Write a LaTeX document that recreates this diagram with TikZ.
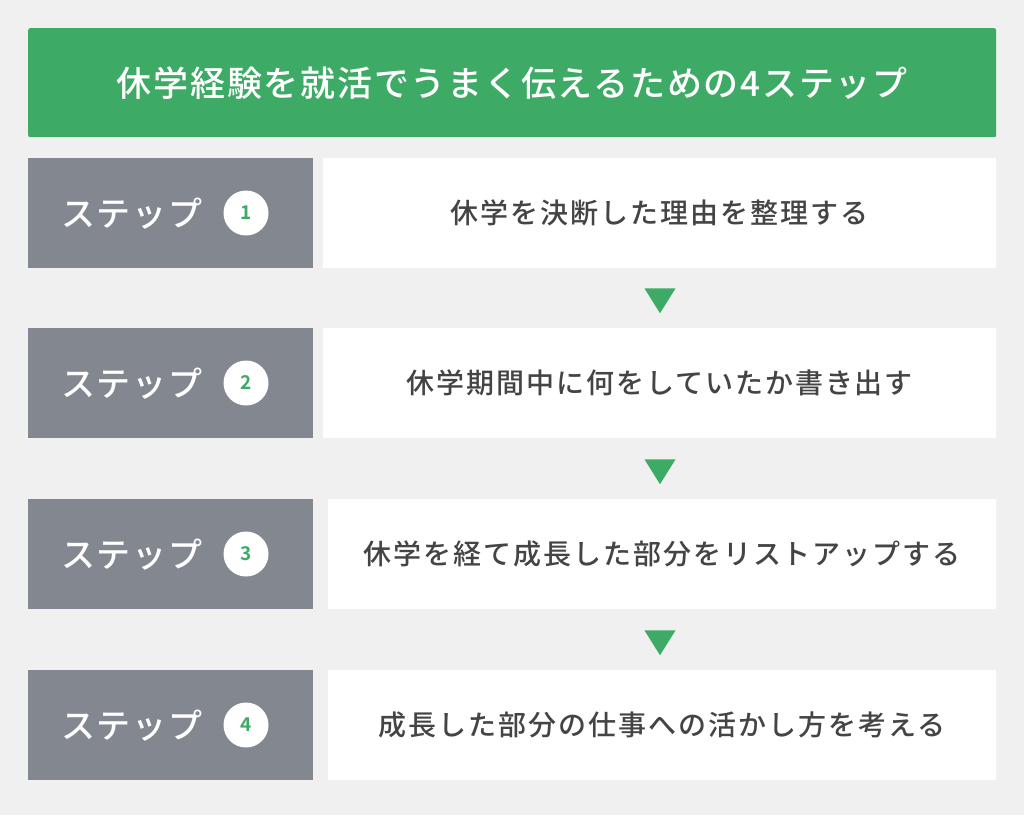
\documentclass[tikz,border=0pt]{standalone}
\usepackage{fontspec}
\setmainfont{Noto Sans CJK JP}[BoldFont={Noto Sans CJK JP Medium}]
\newfontfamily\numfont{Noto Sans CJK JP Bold}
\usetikzlibrary{positioning, shapes.geometric}

\definecolor{bgGray}{HTML}{F0F0F0}
\definecolor{stepGreen}{HTML}{3DAA65}
\definecolor{stepGray}{HTML}{83878F}
\definecolor{textGray}{HTML}{444444}

\tikzset{
	titlebox/.style={fill=stepGreen, rounded corners=2pt, anchor=north west, inner sep=0,
		minimum width=968pt, minimum height=109pt},
	stepbox/.style={fill=stepGray, anchor=north west, inner sep=0,
		minimum width=285pt, minimum height=110pt},
	textbox/.style={fill=white, anchor=north west, inner sep=0, text=textGray,
		font=\fontsize{28}{32}\selectfont\bfseries\addfontfeature{LetterSpace=7}, minimum height=110pt},
	steplabel/.style={anchor=west, inner sep=0, text=white,
		font=\fontsize{34}{38}\selectfont\bfseries\addfontfeature{LetterSpace=5}},
	numcircle/.style={circle, fill=white, inner sep=0, minimum size=45pt,
		text=stepGreen, font=\fontsize{19}{22}\numfont},
	downmark/.style={isosceles triangle, isosceles triangle apex angle=64, shape border rotate=-90,
		fill=stepGreen, inner sep=0, minimum height=24pt, minimum width=31pt}
}

\begin{document}
\begin{tikzpicture}[x=1pt, y=-1pt]
	\fill[bgGray] (0, 0) rectangle (1024, 815);
	\useasboundingbox (0, 0) rectangle (1024, 815);

	\node[titlebox] (title) at (28, 28) {};
	\node[text=white, font=\fontsize{35}{40}\selectfont\bfseries\addfontfeature{LetterSpace=5}] (titletext) at (title.center) {休学経験を就活でうまく伝えるための4ステップ};

	\node[stepbox] (g1) at (28, 158) {};
	\node[stepbox] (g2) at (28, 328) {};
	\node[stepbox] (g3) at (28, 499) {};
	\node[stepbox] (g4) at (28, 670) {};

	\node[textbox, minimum width=673pt] (w1) at (323, 158) {休学を決断した理由を整理する};
	\node[textbox, minimum width=673pt] (w2) at (323, 328) {休学期間中に何をしていたか書き出す};
	\node[textbox, minimum width=668pt] (w3) at (328, 499) {休学を経て成長した部分をリストアップする};
	\node[textbox, minimum width=668pt] (w4) at (328, 670) {成長した部分の仕事への活かし方を考える};

	\node[steplabel, right=33pt of g1.west] (l1) {ステップ};
	\node[steplabel, right=33pt of g2.west] (l2) {ステップ};
	\node[steplabel, right=33pt of g3.west] (l3) {ステップ};
	\node[steplabel, right=33pt of g4.west] (l4) {ステップ};

	\node[numcircle] (n1) at (246, 213) {\selectfont 1};
	\node[numcircle] (n2) at (246, 383) {\selectfont 2};
	\node[numcircle] (n3) at (246, 554) {\selectfont 3};
	\node[numcircle] (n4) at (246, 725) {\selectfont 4};

	\node[downmark] (d1) at (660, 297) {};
	\node[downmark] (d2) at (660, 468) {};
	\node[downmark] (d3) at (660, 639) {};

\end{tikzpicture}
\end{document}
